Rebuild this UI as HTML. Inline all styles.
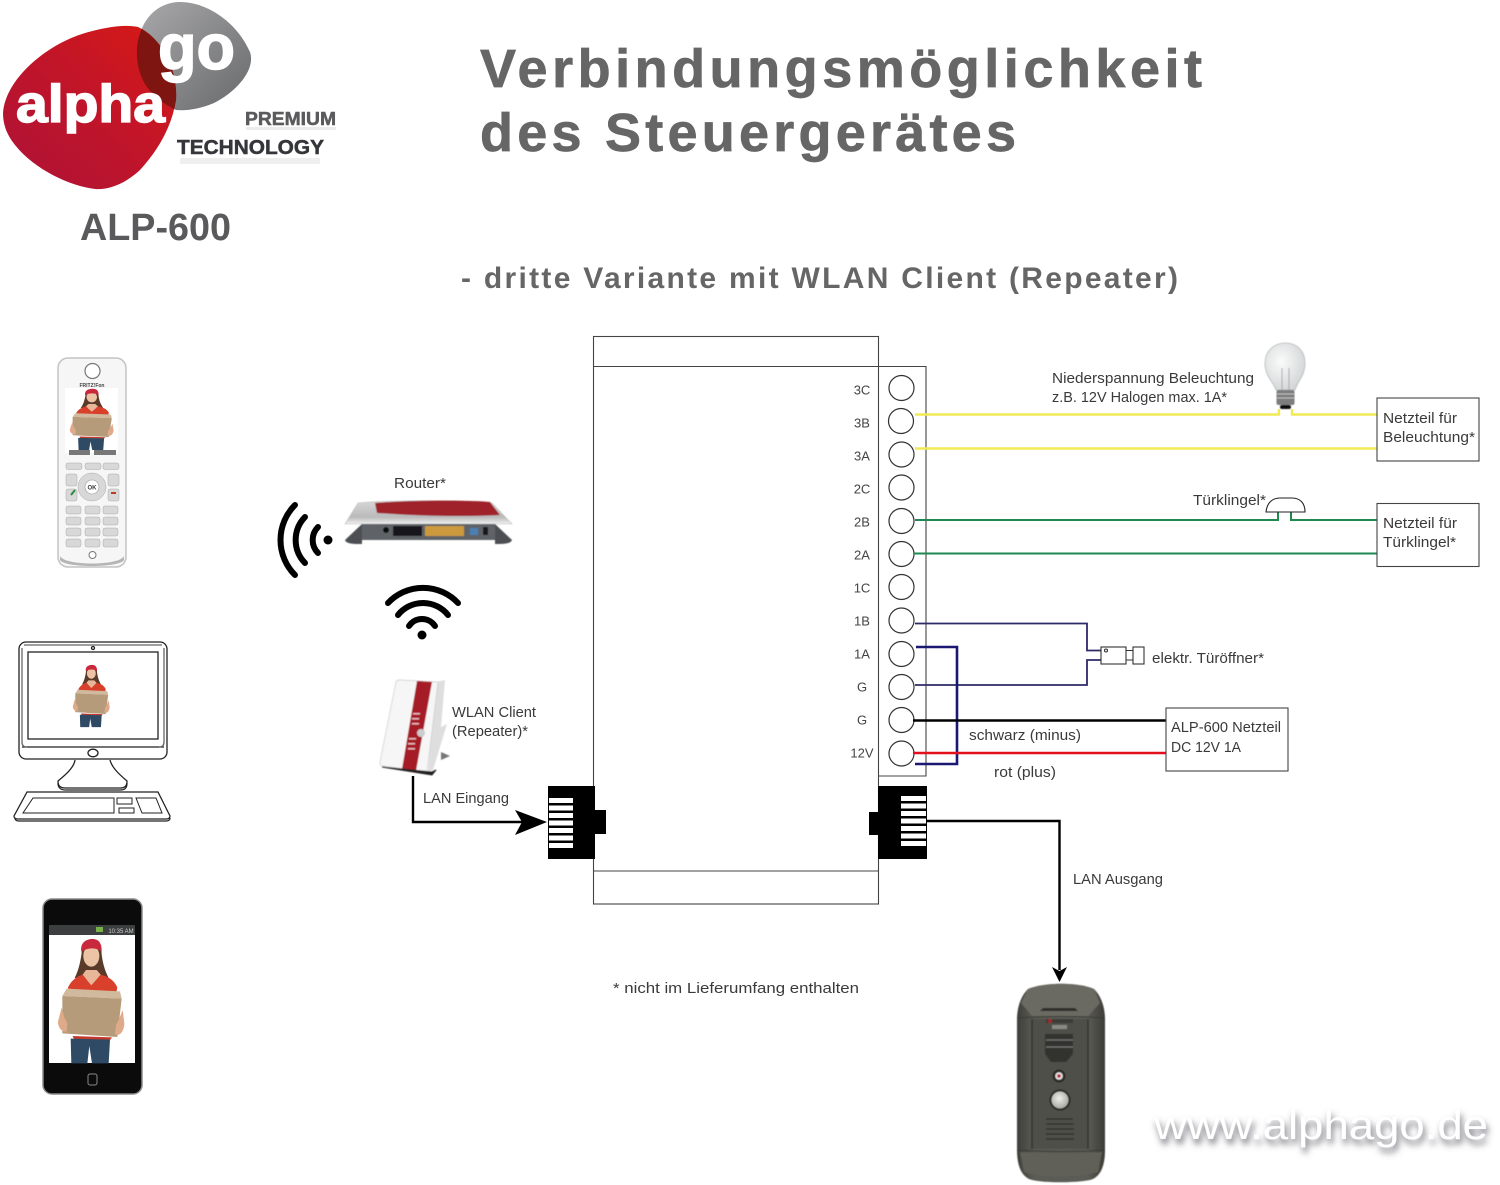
<!DOCTYPE html>
<html lang="de">
<head>
<meta charset="utf-8">
<title>Verbindungsmöglichkeit des Steuergerätes</title>
<style>
html,body{margin:0;padding:0;background:#fff}
svg{display:block}
text{font-family:"Liberation Sans",sans-serif;fill:#3a3a3a;font-size:15px}
.b{font-weight:bold}
.t{font-size:13px;fill:#444;text-anchor:middle}
</style>
</head>
<body>
<svg xmlns="http://www.w3.org/2000/svg" width="1500" height="1185" viewBox="0 0 1500 1185">
<defs>
<linearGradient id="red" x1="0" y1="1" x2="1" y2="0"><stop offset="0" stop-color="#ad1238"/><stop offset=".55" stop-color="#c21528"/><stop offset="1" stop-color="#d81a14"/></linearGradient>
<linearGradient id="grey" x1="0" y1="0" x2="1" y2="1"><stop offset="0" stop-color="#a9a9ab"/><stop offset="1" stop-color="#68696b"/></linearGradient>
<linearGradient id="silver" x1="0" y1="0" x2="0" y2="1"><stop offset="0" stop-color="#d8d8d8"/><stop offset=".7" stop-color="#b9b9b9"/><stop offset="1" stop-color="#f1f1f1"/></linearGradient>
<radialGradient id="glass" cx=".4" cy=".4" r=".7"><stop offset="0" stop-color="#fbfbfb"/><stop offset="1" stop-color="#cfd2d3"/></radialGradient>
<radialGradient id="btn" cx=".45" cy=".4" r=".65"><stop offset="0" stop-color="#eeeeea"/><stop offset="1" stop-color="#a5a59f"/></radialGradient>
<linearGradient id="door" x1="0" y1="0" x2="1" y2="0"><stop offset="0" stop-color="#3f3f3a"/><stop offset=".2" stop-color="#5c5c56"/><stop offset=".8" stop-color="#5c5c56"/><stop offset="1" stop-color="#3c3c37"/></linearGradient>
<clipPath id="redClip"><path d="M3,113C5,80 45,45 85,33C105,27 125,24 138,27C162,38 178,70 176,100C172,125 160,148 140,170C125,184 108,190 95,189C70,186 35,170 15,145C7,135 3,125 3,113Z"/></clipPath>
<filter id="wshadow" x="-10%" y="-50%" width="120%" height="200%"><feDropShadow dx="2" dy="5" stdDeviation="3.500" flood-color="#55555f" flood-opacity=".85"/></filter>
<filter id="soft"><feGaussianBlur stdDeviation=".5"/></filter>
<g id="person">
  <path d="M156,180C152,215 146,240 134,264L236,264C224,240 216,215 214,180C208,158 162,158 156,180Z" fill="#5a3a28"/>
  <ellipse cx="184" cy="198" rx="24" ry="32" fill="#ecc3a5"/>
  <path d="M154,185C150,158 168,147 188,147C206,147 216,160 215,184C196,172 174,172 154,185Z" fill="#c9293c"/>
  <path d="M114,292C125,270 140,260 158,254L184,285L212,254C235,260 252,270 262,292L258,312L118,312Z" fill="#d8402c"/>
  <path d="M168,240L200,240L212,254L184,286L158,254Z" fill="#e8b698"/>
  <path d="M110,296L270,304L275,326L97,318Z" fill="#d0b99c"/>
  <path d="M97,318L275,326L262,441L97,430Z" fill="#b69b7a"/>
  <path d="M95,352L84,395C84,410 92,426 110,425L112,400L102,380Z" fill="#deaa8a"/>
  <path d="M278,360L283,400C283,420 270,442 255,432L258,405L268,385Z" fill="#deaa8a"/>
  <path d="M128,438L246,442L240,450L132,448Z" fill="#c0392b"/>
  <path d="M122,446L240,449L236,520L186,520L178,468L172,520L124,520Z" fill="#2f4a64"/>
</g>
</defs>
<rect width="1500" height="1185" fill="#fff"/>

<!-- logo -->
<path d="M143,26C150,12 162,3 178,2C208,1 238,24 250,52C256,70 236,92 214,103C200,109 186,111 176,110C160,102 148,92 142,78C135,62 135,42 143,26Z" fill="url(#grey)"/>
<path d="M3,113C5,80 45,45 85,33C105,27 125,24 138,27C162,38 178,70 176,100C172,125 160,148 140,170C125,184 108,190 95,189C70,186 35,170 15,145C7,135 3,125 3,113Z" fill="url(#red)"/>
<g clip-path="url(#redClip)"><path d="M143,26C150,12 162,3 178,2C208,1 238,24 250,52C256,70 236,92 214,103C200,109 186,111 176,110C160,102 148,92 142,78C135,62 135,42 143,26Z" fill="#7e1510"/></g>
<text x="16" y="122" class="b" style="font-size:53px;fill:#fff;stroke:#fff;stroke-width:1.500" textLength="149" lengthAdjust="spacingAndGlyphs">alpha</text>
<text x="158" y="69" class="b" style="font-size:64px;fill:#fff;stroke:#fff;stroke-width:1.500" textLength="77" lengthAdjust="spacingAndGlyphs">go</text>
<text x="245" y="125" class="b" style="font-size:18px;fill:#5b5b5d;stroke:#5b5b5d;stroke-width:.5" textLength="91" lengthAdjust="spacingAndGlyphs">PREMIUM</text>
<rect x="246" y="127" width="90" height="3" fill="#ececec"/>
<text x="177" y="154" class="b" style="font-size:20px;fill:#35363a;stroke:#35363a;stroke-width:.5" textLength="147" lengthAdjust="spacingAndGlyphs">TECHNOLOGY</text>
<rect x="180" y="158" width="140" height="6" fill="#efefef"/>
<text x="80" y="240" class="b" style="font-size:38px;fill:#5a5a5c" textLength="151" lengthAdjust="spacingAndGlyphs">ALP-600</text>

<!-- titles -->
<text x="480" y="87" class="b" style="font-size:54px;fill:#666;stroke:#666;stroke-width:.7" textLength="722">Verbindungsmöglichkeit</text>
<text x="480" y="151" class="b" style="font-size:54px;fill:#666;stroke:#666;stroke-width:.7" textLength="536">des Steuergerätes</text>
<text x="461" y="288" class="b" style="font-size:30px;fill:#666" textLength="717">- dritte Variante mit WLAN Client (Repeater)</text>

<!-- cordless phone -->
<rect x="58" y="358" width="68" height="209" rx="10" fill="#f6f6f6" stroke="#c4c4c4" stroke-width="1.500"/>
<path d="M60,556C64,566 120,566 124,556L124,560C120,568 64,568 60,560Z" fill="#b5b5b5"/>
<circle cx="92.500" cy="371" r="7.500" fill="#fff" stroke="#777" stroke-width="1.200"/>
<text x="92" y="387" class="b" style="font-size:5px;fill:#444;text-anchor:middle">FRITZ!Fon</text>
<rect x="65" y="388" width="53" height="65" fill="#fff"/>
<use href="#person" transform="translate(51.300 364.700) scale(.22 .164)"/>
<rect x="69" y="450" width="21" height="5" fill="#777"/><rect x="94" y="450" width="22" height="5" fill="#777"/>
<g fill="#d8d8d8" stroke="#aaa" stroke-width=".5">
<rect x="66" y="463" width="16" height="6.500" rx="2"/><rect x="85" y="463" width="16" height="6.500" rx="2"/><rect x="103" y="463" width="16" height="6.500" rx="2"/>
<rect x="66" y="474" width="11" height="12" rx="2"/><rect x="108" y="474" width="11" height="12" rx="2"/>
<rect x="66" y="489" width="11" height="12" rx="2"/><rect x="108" y="489" width="11" height="12" rx="2"/>
<circle cx="92" cy="487" r="14"/>
<rect x="66" y="506" width="15" height="8" rx="2"/><rect x="85" y="506" width="15" height="8" rx="2"/><rect x="103" y="506" width="15" height="8" rx="2"/>
<rect x="66" y="517" width="15" height="8" rx="2"/><rect x="85" y="517" width="15" height="8" rx="2"/><rect x="103" y="517" width="15" height="8" rx="2"/>
<rect x="66" y="528" width="15" height="8" rx="2"/><rect x="85" y="528" width="15" height="8" rx="2"/><rect x="103" y="528" width="15" height="8" rx="2"/>
<rect x="66" y="539" width="15" height="8" rx="2"/><rect x="85" y="539" width="15" height="8" rx="2"/><rect x="103" y="539" width="15" height="8" rx="2"/>
</g>
<circle cx="92" cy="487" r="7" fill="#fff" stroke="#999" stroke-width=".6"/>
<text x="92" y="489.500" class="b" style="font-size:6px;text-anchor:middle">OK</text>
<path d="M71,495l4,-5" stroke="#2e8b3d" stroke-width="2"/><path d="M111,493h5" stroke="#c0392b" stroke-width="2"/>
<circle cx="92.500" cy="555" r="3.500" fill="#fff" stroke="#777"/>

<!-- desktop computer -->
<g fill="none" stroke="#222" stroke-width="1.300">
<rect x="19" y="642" width="148" height="117" rx="7" fill="#fff"/>
<path d="M22,747H164"/><path d="M22,648V742Q22,747 27,747M164,648V742Q164,747 159,747M24,645H162" stroke="#666"/>
<rect x="28" y="652" width="130" height="87"/>
<circle cx="93" cy="648" r="1.500"/>
<ellipse cx="93" cy="753" rx="5" ry="3.800"/>
<path d="M75,760C74,768 64,776 58,781C58,786 60,788 66,788H120C125,788 127,786 127,781C120,775 112,768 110,760"/>
<path d="M58,783C58,789 62,790 66,790H120C124,790 127,789 127,783"/>
<path d="M27,792H158L170,816Q170,819 166,819H18Q14,819 14,816Z" fill="#fff"/>
<path d="M15,818Q15,821 19,821H166Q170,821 170,818"/>
<path d="M33,798H114V813H23Z M117,798H132V804H117Z M119,808H134V813H119Z M136,798H156L162,813H142Z" stroke-width="1"/>
</g>
<use href="#person" transform="translate(57.300 640.300) scale(.185 .167)"/>

<!-- smartphone -->
<rect x="43" y="899" width="99" height="195" rx="9" fill="#0b0b0b" stroke="#8b8b8b" stroke-width="1.500"/>
<rect x="49" y="925" width="86" height="10" fill="#3c3f3f"/>
<text x="121" y="933" style="font-size:6px;fill:#ccc;text-anchor:middle">10:35 AM</text>
<rect x="96" y="927" width="7" height="5" fill="#78b04a"/>
<rect x="49" y="935" width="86" height="128" fill="#fff"/>
<use href="#person" transform="translate(30 890) scale(.33333)"/>
<rect x="88" y="1074" width="9" height="11" rx="2" fill="none" stroke="#888"/>

<!-- wifi icons -->
<g fill="none" stroke="#000" stroke-width="6" stroke-linecap="round">
<path d="M318,527A18.500,18.500 0 0 0 318,553"/>
<path d="M305,517A33,33 0 0 0 305,563"/>
<path d="M295,505A49.500,49.500 0 0 0 295,575"/>
<path d="M409,626A15.500,15.500 0 0 1 435,626"/>
<path d="M398,615A32,32 0 0 1 448,615"/>
<path d="M388,603A48,48 0 0 1 458,603"/>
</g>
<circle cx="328" cy="540" r="4.500"/><circle cx="422" cy="635" r="4.500"/>

<!-- router -->
<g filter="url(#soft)">
<path d="M358,503C390,500 470,500 492,503L512,524H345Z" fill="url(#silver)" stroke="#bbb" stroke-width=".6"/>
<path d="M375,503C410,500 470,500 490,502L500,515C460,517 420,516 377,513Z" fill="#9f2029"/>
<path d="M362,524H495V540H362Z" fill="#5f6368"/>
<path d="M362,524L345,540Q346,544 358,544H362Z M495,524L512,540Q511,544 499,544H495Z" fill="#4c4f53"/>
<rect x="393" y="526" width="29" height="10" fill="#17181a"/>
<rect x="425" y="526" width="39" height="10" fill="#cc9a3d"/>
<rect x="470" y="528" width="8" height="7" fill="#4a7fb5"/>
<rect x="483" y="527" width="5" height="8" fill="#17181a"/>
<circle cx="386" cy="530" r="3" fill="#111"/>
</g>
<text x="394" y="488" textLength="52" lengthAdjust="spacingAndGlyphs">Router*</text>

<!-- repeater -->
<g filter="url(#soft)">
<path d="M436,682L445,680L441,727L447,724L433,770L428,772Z" fill="#dedede"/>
<path d="M441,752L450,756L441,760Z" fill="#777"/>
<path d="M396,682Q396,680 399,680L438,682L427,772L383,766C380,766 380,764 380,762Z" fill="#f6f6f6" stroke="#ccc" stroke-width=".7"/>
<path d="M417,681L432,682L416,771L402,769Z" fill="#a61c28"/>
<circle cx="421" cy="733" r="4" fill="#ccc"/>
<path d="M382,767L432,775L436,770L432,772Z" fill="#222" stroke="#222"/>
<g fill="#e5b7ba"><rect x="413" y="713" width="7" height="1.500"/><rect x="412" y="718" width="7" height="1.500"/><rect x="412" y="723" width="7" height="1.500"/><rect x="409" y="738" width="7" height="1.500"/><rect x="408" y="743" width="7" height="1.500"/><rect x="408" y="748" width="7" height="1.500"/></g>
</g>
<text x="452" y="717" textLength="84" lengthAdjust="spacingAndGlyphs">WLAN Client</text>
<text x="452" y="736" textLength="76" lengthAdjust="spacingAndGlyphs">(Repeater)*</text>

<!-- main housing -->
<g fill="none" stroke="#444" stroke-width="1.100">
<rect x="593.500" y="336.500" width="285" height="567.500"/>
<path d="M593.500,366.500H926V776H878.500"/>
<path d="M593.500,871H878.500"/>
</g>
<g fill="#fff" stroke="#333" stroke-width="1.200">
<circle cx="901.500" cy="388" r="12.500"/><circle cx="901" cy="421" r="12.500"/><circle cx="901.500" cy="454.500" r="12.500"/><circle cx="901.500" cy="487.500" r="12.500"/><circle cx="901.500" cy="521" r="12.500"/><circle cx="901.500" cy="554" r="12.500"/><circle cx="901.500" cy="587" r="12.500"/><circle cx="901.500" cy="620.500" r="12.500"/><circle cx="901.500" cy="654" r="12.500"/><circle cx="901.500" cy="687" r="12.500"/><circle cx="901.500" cy="720" r="12.500"/><circle cx="901.500" cy="753.500" r="12.500"/>
</g>
<text class="t" x="862" y="394.500">3C</text><text class="t" x="862" y="427.500">3B</text><text class="t" x="862" y="460.500">3A</text><text class="t" x="862" y="493.500">2C</text><text class="t" x="862" y="526.500">2B</text><text class="t" x="862" y="559.500">2A</text><text class="t" x="862" y="592.500">1C</text><text class="t" x="862" y="625.500">1B</text><text class="t" x="862" y="658.500">1A</text><text class="t" x="862" y="691.500">G</text><text class="t" x="862" y="724.500">G</text><text class="t" x="862" y="757.500">12V</text>

<!-- wires -->
<g fill="none">
<path d="M915,414.500H1279V409M1292,409V414.500H1377M915,448.500H1377" stroke="#f0ea55" stroke-width="2.400"/>
<path d="M915,520H1278V512M1291,512V520H1377M914,553.500H1377" stroke="#1e8a52" stroke-width="2"/>
<path d="M915,623.500H1087V650.500H1101M1101,660H1087V685H915" stroke="#2d2a66" stroke-width="1.800"/>
<path d="M916,647H957V764H915" stroke="#1b1872" stroke-width="2.600"/>
<path d="M913,720.500H1166" stroke="#000" stroke-width="2.600"/>
<path d="M913,753H1166" stroke="#e3101c" stroke-width="2.600"/>
<path d="M927,821H1059.500V970" stroke="#000" stroke-width="2.400"/>
<path d="M413,776V822H522" stroke="#000" stroke-width="2.400"/>
</g>
<path d="M1052,967L1059.500,971L1067,967L1059.500,982Z" fill="#000"/>
<path d="M515,810L547,822L515,835L522,822Z" fill="#000"/>

<!-- bulb -->
<g filter="url(#soft)">
<path d="M1276,390C1272,380 1265,376 1265,363C1265,351 1274,343 1285.500,343C1297,343 1305,351 1305,363C1305,376 1298,380 1295,390Z" fill="url(#glass)" stroke="#b5b9ba" stroke-width=".8"/>
<path d="M1282,390V368M1289,390V368" stroke="#a5a9ab" stroke-width="1" fill="none"/>
<rect x="1276.500" y="390" width="18" height="15" rx="2" fill="#7c7d7c"/>
<path d="M1277,394H1294M1277,398H1294" stroke="#c5c5c5"/>
<rect x="1280" y="405" width="11" height="4" rx="2" fill="#111"/>
</g>

<!-- bell -->
<path d="M1266,512C1267,503 1272,498 1280,498H1292C1300,498 1305,503 1305,512Z" fill="#fff" stroke="#222" stroke-width="1.100"/>

<!-- door opener -->
<g fill="#fff" stroke="#333" stroke-width="1.100">
<rect x="1101" y="647" width="25" height="17"/>
<rect x="1133" y="647" width="11" height="17"/>
<path d="M1126,650.500H1133M1126,660H1133"/>
<circle cx="1106" cy="650.500" r="1.500"/>
</g>

<!-- boxes -->
<g fill="#fff" stroke="#444" stroke-width="1.100">
<rect x="1377" y="398" width="102" height="63"/>
<rect x="1377" y="503.500" width="102" height="63"/>
<rect x="1166" y="708" width="122" height="63"/>
</g>

<!-- RJ45 connectors -->
<rect x="878" y="786" width="49" height="73" fill="#000"/>
<rect x="869" y="812" width="10" height="23" fill="#000"/>
<g fill="#fff">
<rect x="901" y="796" width="25" height="5"/><rect x="901" y="803.500" width="25" height="5"/><rect x="901" y="811" width="25" height="5"/><rect x="901" y="818.500" width="25" height="5"/><rect x="901" y="826" width="25" height="5"/><rect x="901" y="833.500" width="25" height="5"/><rect x="901" y="841" width="25" height="5"/>
</g>
<rect x="548" y="786" width="47" height="73" fill="#000"/>
<rect x="594" y="810" width="12" height="24" fill="#000"/>
<g fill="#fff">
<rect x="549" y="798" width="24" height="5"/><rect x="549" y="805.500" width="24" height="5"/><rect x="549" y="813" width="24" height="5"/><rect x="549" y="820.500" width="24" height="5"/><rect x="549" y="828" width="24" height="5"/><rect x="549" y="835.500" width="24" height="5"/><rect x="549" y="843" width="24" height="5"/>
</g>

<!-- labels -->
<text x="1052" y="383" textLength="202" lengthAdjust="spacingAndGlyphs">Niederspannung Beleuchtung</text>
<text x="1052" y="402" textLength="175" lengthAdjust="spacingAndGlyphs">z.B. 12V Halogen max. 1A*</text>
<text x="1193" y="505" textLength="73" lengthAdjust="spacingAndGlyphs">Türklingel*</text>
<text x="1383" y="423" textLength="74" lengthAdjust="spacingAndGlyphs">Netzteil für</text>
<text x="1383" y="442" textLength="92" lengthAdjust="spacingAndGlyphs">Beleuchtung*</text>
<text x="1383" y="528" textLength="74" lengthAdjust="spacingAndGlyphs">Netzteil für</text>
<text x="1383" y="547" textLength="73" lengthAdjust="spacingAndGlyphs">Türklingel*</text>
<text x="1152" y="663" textLength="112" lengthAdjust="spacingAndGlyphs">elektr. Türöffner*</text>
<text x="1171" y="732" textLength="110" lengthAdjust="spacingAndGlyphs">ALP-600 Netzteil</text>
<text x="1171" y="752" textLength="70" lengthAdjust="spacingAndGlyphs">DC 12V 1A</text>
<text x="969" y="740" textLength="112" lengthAdjust="spacingAndGlyphs">schwarz (minus)</text>
<text x="994" y="777" textLength="62" lengthAdjust="spacingAndGlyphs">rot (plus)</text>
<text x="423" y="803" textLength="86" lengthAdjust="spacingAndGlyphs">LAN Eingang</text>
<text x="1073" y="884" textLength="90" lengthAdjust="spacingAndGlyphs">LAN Ausgang</text>
<text x="613" y="993" textLength="246" lengthAdjust="spacingAndGlyphs">* nicht im Lieferumfang enthalten</text>

<!-- door station -->
<g filter="url(#soft)">
<path d="M1028,989C1045,982 1078,982 1094,989C1100,995 1105,1005 1105,1020V1150C1105,1170 1098,1178 1090,1180C1075,1183 1045,1183 1032,1180C1024,1178 1017,1170 1017,1150V1020C1017,1005 1022,995 1028,989Z" fill="url(#door)"/>
<path d="M1028,989C1045,982 1078,982 1094,989L1100,1003L1088,1016H1032L1021,1003Z" fill="#6a6a62"/>
<path d="M1040,1011H1078L1075,1008H1043Z" fill="#2f2f2b"/>
<path d="M1017,1018C1045,1016 1080,1016 1105,1018" stroke="#3a3a36" fill="none"/>
<rect x="1032" y="1019" width="56" height="130" fill="#50504a"/>
<path d="M1032,1019V1149M1088,1019V1149" stroke="#33332f" stroke-width="1.500"/>
<rect x="1046" y="1019" width="27" height="4" fill="#3b3b37"/>
<circle cx="1050" cy="1021" r="2.200" fill="#a02a2a"/>
<rect x="1052" y="1025" width="15" height="4" fill="#8a8a83"/>
<path d="M1045,1034H1073V1054L1066,1062H1051L1045,1054Z" fill="#33332f"/>
<path d="M1046,1040H1073M1046,1047H1073" stroke="#777" stroke-width="1.200"/>
<circle cx="1059" cy="1076" r="6.500" fill="#2b2b28"/><circle cx="1059" cy="1076" r="3.800" fill="#e9e3e3"/><circle cx="1059" cy="1076" r="1.800" fill="#b31e33"/>
<circle cx="1060" cy="1100" r="10.500" fill="#26261f"/><circle cx="1060" cy="1100" r="8.500" fill="url(#btn)"/>
<path d="M1046,1119H1073M1046,1124H1074M1046,1129H1074M1046,1134H1074M1046,1139H1074" stroke="#2e2e2a" stroke-width="1.200"/>
<path d="M1017,1150C1045,1152 1080,1152 1105,1150" stroke="#3a3a36" fill="none"/>
<path d="M1020,1152C1045,1154 1080,1154 1102,1152L1098,1172C1080,1178 1040,1178 1024,1172Z" fill="#605f58"/>
</g>

<!-- URL -->
<text x="1154" y="1139" filter="url(#wshadow)" style="font-size:41px;fill:#fff" textLength="334" lengthAdjust="spacingAndGlyphs">www.alphago.de</text>
</svg>
</body>
</html>
